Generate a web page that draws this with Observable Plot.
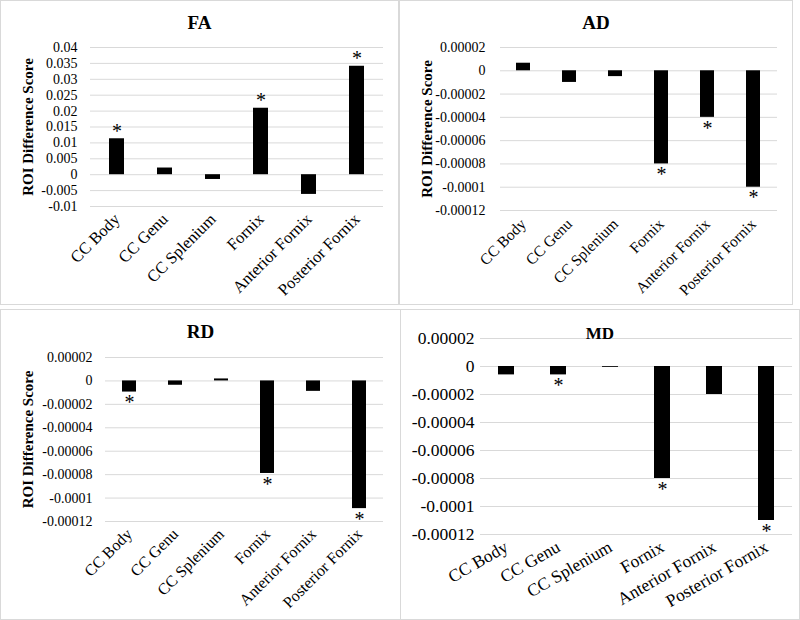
<!DOCTYPE html>
<html>
<head>
<meta charset="utf-8">
<script src="https://cdn.jsdelivr.net/npm/d3@7"></script>
<script src="https://cdn.jsdelivr.net/npm/@observablehq/plot@0.6"></script>
<style>
  body { margin: 0; background: #fff; }
  #root { position: relative; width: 800px; height: 620px; overflow: hidden; background: #fff;
          font-family: "Liberation Serif", "Times New Roman", serif; }
  .panel { position: absolute; overflow: visible; }
  .panel svg { position: absolute; left: 0; top: 0; overflow: visible; }
  .frame { position: absolute; box-sizing: border-box; border: 1px solid #d9d9d9; pointer-events: none; }
  .title { position: absolute; left: 0; right: 0; text-align: center; font-weight: bold; line-height: 1; color: #000; }
</style>
</head>
<body>
<div id="root"></div>
<script>
// ---- data ----
const regions = ["CC Body", "CC Genu", "CC Splenium", "Fornix", "Anterior Fornix", "Posterior Fornix"];

const faValues = [0.0113, 0.0021, -0.0015, 0.0209, -0.0062, 0.0341];
const adValues = [0.0000065, -0.00001, -0.000005, -0.00008, -0.00004, -0.0001];
const rdValues = [-0.0000095, -0.0000037, 0.0000017, -0.000079, -0.0000089, -0.000109];
const mdValues = [-0.000006, -0.000006, -0.0000006, -0.00008, -0.00002, -0.00011];

const faSig = [true, false, false, true, false, true];
const adSig = [false, false, false, true, true, true];
const rdSig = [true, false, false, true, false, true];
const mdSig = [false, true, false, true, false, true];

const faTicks = [-0.01, -0.005, 0, 0.005, 0.01, 0.015, 0.02, 0.025, 0.03, 0.035, 0.04];
const diffTicks = [-0.00012, -0.0001, -0.00008, -0.00006, -0.00004, -0.00002, 0, 0.00002];

const yLabel = "ROI Difference Score";
const titles = ["FA", "AD", "RD", "MD"];

// ---- layout (positions / styles only) ----
const panels = [
  { title: titles[0], values: faValues, sig: faSig, ticks: faTicks, domain: [-0.01, 0.04], ylabel: yLabel,
    left: 0, top: 0, w: 399, h: 305, mt: 47, mb: 99, ml: 90, mr: 16,
    tickFont: 14, tickPad: 13, xFont: 16.5, rot: -45, xPad: 10, titleFont: 19, titleTop: 13, labelX: 28 },
  { title: titles[1], values: adValues, sig: adSig, ticks: diffTicks, domain: [-0.00012, 0.00002], ylabel: yLabel,
    left: 399, top: 0, w: 394, h: 305, mt: 47, mb: 95, ml: 101, mr: 16,
    tickFont: 14, tickPad: 15, xFont: 15.5, rot: -45, xPad: 11, titleFont: 19, titleTop: 13, labelX: 28 },
  { title: titles[2], values: rdValues, sig: rdSig, ticks: diffTicks, domain: [-0.00012, 0.00002], ylabel: yLabel,
    left: 0, top: 309, w: 401, h: 311, mt: 48, mb: 99, ml: 105, mr: 18,
    tickFont: 14, tickPad: 13, xFont: 16, rot: -45, xPad: 10, titleFont: 19, titleTop: 13, labelX: 28 },
  { title: titles[3], values: mdValues, sig: mdSig, ticks: diffTicks, domain: [-0.00012, 0.00002], ylabel: null,
    left: 400, top: 309, w: 400, h: 311, mt: 29, mb: 86, ml: 80, mr: 8,
    tickFont: 17.5, tickPad: 6, xFont: 17.5, rot: -30, xPad: 11, titleFont: 17, titleTop: 16, labelX: 0 }
];

const fmt = d => String(Math.round(d * 1e7) / 1e7);
const root = document.getElementById("root");

for (const p of panels) {
  const data = regions.map((r, i) => ({ region: r, value: p.values[i], sig: p.sig[i] }));
  const pos = data.filter(d => d.sig && d.value > 0);
  const neg = data.filter(d => d.sig && d.value < 0);

  const marks = [
    Plot.gridY(p.ticks, { stroke: "#d9d9d9", strokeOpacity: 1, strokeWidth: 1 }),
    Plot.axisY(p.ticks, { tickSize: 0, tickPadding: p.tickPad, tickFormat: fmt, fontSize: p.tickFont, label: null }),
    Plot.axisX({ tickSize: 0, tickRotate: p.rot, tickPadding: p.xPad, fontSize: p.xFont, label: null }),
    Plot.barY(data, { x: "region", y: "value", fill: "#000" }),
    Plot.text(pos, { x: "region", y: "value", text: () => "*", lineAnchor: "bottom", dy: -1, fontSize: 20 }),
    Plot.text(neg, { x: "region", y: "value", text: () => "*", lineAnchor: "top", dy: 3, fontSize: 20 })
  ];
  if (p.ylabel) {
    marks.push(Plot.text([p.ylabel], { frameAnchor: "left", text: d => d, rotate: -90, textAnchor: "middle",
      lineAnchor: "middle", dx: p.labelX - p.ml, fontWeight: "bold", fontSize: 15 }));
  }

  const chart = Plot.plot({
    width: p.w, height: p.h,
    marginTop: p.mt, marginBottom: p.mb, marginLeft: p.ml, marginRight: p.mr,
    style: { fontFamily: "'Liberation Serif', 'Times New Roman', serif", color: "#000", background: "transparent", overflow: "visible" },
    x: { domain: regions, paddingInner: 0.69, paddingOuter: 0.345 },
    y: { domain: p.domain },
    marks
  });

  const div = document.createElement("div");
  div.className = "panel";
  Object.assign(div.style, { left: p.left + "px", top: p.top + "px", width: p.w + "px", height: p.h + "px" });
  div.appendChild(chart);

  const t = document.createElement("div");
  t.className = "title";
  t.textContent = p.title;
  Object.assign(t.style, { top: p.titleTop + "px", fontSize: p.titleFont + "px" });
  div.appendChild(t);

  const fr = document.createElement("div");
  fr.className = "frame";
  Object.assign(fr.style, { left: "0px", top: "0px", width: p.w + "px", height: p.h + "px" });
  div.appendChild(fr);

  root.appendChild(div);
}
</script>
</body>
</html>
